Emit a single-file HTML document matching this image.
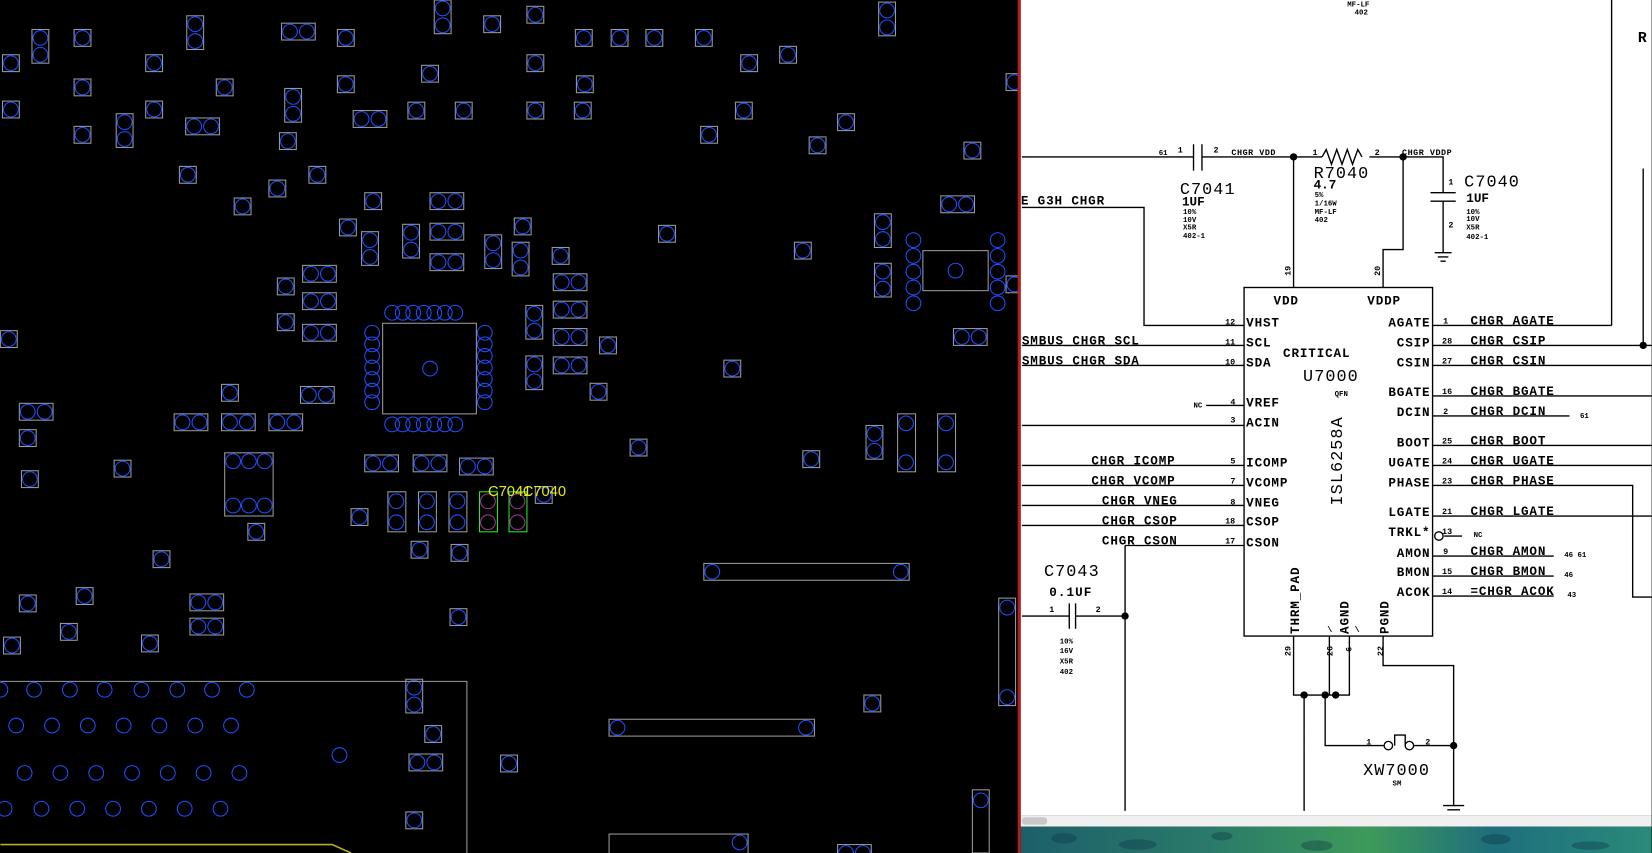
<!DOCTYPE html>
<html><head><meta charset="utf-8"><style>
html,body{margin:0;padding:0;background:#000;overflow:hidden}
svg{display:block}
.s text{font-family:"Liberation Mono",monospace;font-weight:bold;fill:#000}
.w{stroke:#000;stroke-width:1.3;fill:none}
.l{font-size:12px;letter-spacing:0.8px}
.n{font-size:8px}
.t{font-size:7px}
.p{font-size:12px}
.big{font-family:"Liberation Mono",monospace;font-size:16px;font-weight:normal !important;letter-spacing:1px}
</style></head><body>
<svg width="1652" height="853" viewBox="0 0 1568 810" xmlns="http://www.w3.org/2000/svg">
<defs>
<g id="S"><rect x="0" y="0" width="16" height="16" fill="none" stroke="#9a9a9a" stroke-width="1"/><circle cx="8" cy="8" r="7" fill="none" stroke="#1f4fff" stroke-width="1"/></g>
<g id="H"><rect x="0" y="0" width="32" height="16" fill="none" stroke="#9a9a9a" stroke-width="1"/><circle cx="8" cy="8" r="7" fill="none" stroke="#1f4fff"/><circle cx="24" cy="8" r="7" fill="none" stroke="#1f4fff"/></g>
<g id="V"><rect x="0" y="0" width="16" height="32" fill="none" stroke="#9a9a9a" stroke-width="1"/><circle cx="8" cy="8" r="7" fill="none" stroke="#1f4fff"/><circle cx="8" cy="24" r="7" fill="none" stroke="#1f4fff"/></g>
<g id="C"><circle r="7" fill="none" stroke="#1f4fff"/></g>
<linearGradient id="tex" x1="0" y1="0" x2="1" y2="0">
<stop offset="0" stop-color="#1d5f6a"/><stop offset="0.3" stop-color="#2a7a6a"/><stop offset="0.55" stop-color="#3d9a5a"/><stop offset="0.75" stop-color="#1e6e7c"/><stop offset="1" stop-color="#2a8a7a"/></linearGradient>
</defs>
<rect x="0" y="0" width="968" height="810" fill="#000"/>
<!-- PCB pads -->
<g>
<use href="#S" x="2" y="52"/><use href="#V" x="30" y="28"/><use href="#S" x="70" y="28"/><use href="#S" x="138" y="52"/><use href="#V" x="177" y="15"/><use href="#H" x="267" y="22"/><use href="#S" x="320" y="28"/><use href="#V" x="412" y="0"/><use href="#S" x="459" y="15"/><use href="#S" x="500" y="6"/><use href="#S" x="546" y="28"/><use href="#S" x="580" y="28"/><use href="#S" x="613" y="28"/><use href="#S" x="660" y="28"/><use href="#S" x="703" y="52"/><use href="#S" x="740" y="44"/><use href="#V" x="834" y="2"/>
<use href="#S" x="500" y="52"/><use href="#S" x="547" y="72"/><use href="#S" x="400" y="62"/><use href="#S" x="320" y="72"/><use href="#S" x="205" y="75"/><use href="#S" x="70" y="75"/><use href="#S" x="2" y="96"/><use href="#S" x="138" y="96"/><use href="#V" x="110" y="108"/><use href="#H" x="176" y="112"/><use href="#V" x="270" y="84"/><use href="#H" x="335" y="105"/><use href="#S" x="387" y="97"/><use href="#S" x="432" y="97"/><use href="#S" x="500" y="97"/><use href="#S" x="545" y="97"/><use href="#S" x="698" y="97"/><use href="#S" x="795" y="108"/><use href="#S" x="768" y="130"/><use href="#S" x="665" y="120"/><use href="#S" x="915" y="135"/><use href="#S" x="70" y="120"/><use href="#S" x="265" y="126"/>
<use href="#S" x="170" y="158"/><use href="#S" x="293" y="158"/><use href="#S" x="255" y="171"/><use href="#S" x="222" y="188"/><use href="#S" x="322" y="208"/><use href="#S" x="346" y="183"/><use href="#V" x="343" y="220"/><use href="#V" x="382" y="213"/><use href="#H" x="408" y="183"/><use href="#H" x="408" y="212"/><use href="#H" x="408" y="241"/><use href="#V" x="460" y="223"/><use href="#S" x="488" y="207"/><use href="#V" x="486" y="230"/><use href="#S" x="524" y="235"/><use href="#S" x="625" y="214"/><use href="#S" x="754" y="230"/><use href="#H" x="893" y="186"/><use href="#V" x="830" y="203"/><use href="#V" x="830" y="250"/>
<use href="#S" x="263" y="264"/><use href="#H" x="287" y="252"/><use href="#H" x="287" y="278"/><use href="#H" x="287" y="308"/><use href="#S" x="263" y="298"/><use href="#H" x="525" y="260"/><use href="#H" x="525" y="286"/><use href="#H" x="525" y="312"/><use href="#V" x="499" y="290"/><use href="#V" x="499" y="338"/><use href="#S" x="569" y="320"/><use href="#H" x="525" y="339"/><use href="#S" x="687" y="342"/><use href="#S" x="560" y="364"/><use href="#S" x="210" y="365"/><use href="#H" x="285" y="367"/><use href="#S" x="0" y="314"/><use href="#H" x="18" y="383"/><use href="#H" x="165" y="393"/><use href="#H" x="210" y="393"/><use href="#H" x="255" y="393"/><use href="#S" x="18" y="408"/><use href="#H" x="905" y="312"/>
<rect x="876" y="238" width="62" height="38" fill="none" stroke="#9a9a9a"/><use href="#C" x="907" y="257"/>
<use href="#C" x="867" y="228"/><use href="#C" x="867" y="243"/><use href="#C" x="867" y="258"/><use href="#C" x="867" y="273"/><use href="#C" x="867" y="288"/>
<use href="#C" x="947" y="228"/><use href="#C" x="947" y="243"/><use href="#C" x="947" y="258"/><use href="#C" x="947" y="273"/><use href="#C" x="947" y="288"/>
<use href="#S" x="598" y="417"/><use href="#S" x="762" y="428"/><use href="#V" x="822" y="404"/>
<rect x="852" y="393" width="17" height="55" fill="none" stroke="#9a9a9a"/><use href="#C" x="860" y="402"/><use href="#C" x="860" y="439"/>
<rect x="890" y="393" width="17" height="55" fill="none" stroke="#9a9a9a"/><use href="#C" x="898" y="402"/><use href="#C" x="898" y="439"/>
<use href="#H" x="346" y="432"/><use href="#H" x="392" y="432"/><use href="#H" x="436" y="435"/>
<rect x="213" y="430" width="46" height="60" fill="none" stroke="#9a9a9a"/><use href="#C" x="221" y="438"/><use href="#C" x="236" y="438"/><use href="#C" x="251" y="438"/><use href="#C" x="221" y="480"/><use href="#C" x="236" y="480"/><use href="#C" x="251" y="480"/>
<use href="#S" x="108" y="437"/><use href="#S" x="20" y="447"/>
<rect x="368" y="467" width="17" height="38" fill="none" stroke="#9a9a9a"/><use href="#C" x="376" y="476"/><use href="#C" x="376" y="496"/>
<rect x="397" y="467" width="17" height="38" fill="none" stroke="#9a9a9a"/><use href="#C" x="405" y="476"/><use href="#C" x="405" y="496"/>
<rect x="426" y="467" width="17" height="38" fill="none" stroke="#9a9a9a"/><use href="#C" x="434" y="476"/><use href="#C" x="434" y="496"/>
<use href="#S" x="508" y="462"/>
<rect x="455" y="467" width="17" height="38" fill="none" stroke="#22ee22"/><circle cx="463" cy="476" r="7" fill="none" stroke="#a0309a"/><circle cx="463" cy="496" r="7" fill="none" stroke="#a0309a"/>
<rect x="483" y="467" width="17" height="38" fill="none" stroke="#22ee22"/><circle cx="491" cy="476" r="7" fill="none" stroke="#a0309a"/><circle cx="491" cy="496" r="7" fill="none" stroke="#a0309a"/>
<text x="463" y="471" font-family="Liberation Sans,sans-serif" font-size="14" fill="#e8e820">C7041</text><text x="496" y="471" font-family="Liberation Sans,sans-serif" font-size="14" fill="#e8e820">C7040</text>
<use href="#S" x="333" y="483"/><use href="#S" x="235" y="497"/><use href="#S" x="390" y="514"/><use href="#S" x="428" y="517"/><use href="#S" x="145" y="523"/>
<use href="#S" x="18" y="565"/><use href="#S" x="72" y="558"/><use href="#H" x="180" y="564"/><use href="#H" x="180" y="587"/><use href="#S" x="57" y="592"/><use href="#S" x="3" y="605"/><use href="#S" x="134" y="603"/><use href="#S" x="427" y="578"/>
<rect x="668" y="535" width="195" height="16" fill="none" stroke="#9a9a9a"/><use href="#C" x="676" y="543"/><use href="#C" x="855" y="543"/>
<rect x="948" y="568" width="16" height="102" fill="none" stroke="#9a9a9a"/><use href="#C" x="956" y="577"/><use href="#C" x="956" y="662"/>
<use href="#V" x="385" y="645"/><use href="#S" x="403" y="689"/><use href="#H" x="388" y="716"/><use href="#S" x="475" y="717"/><use href="#S" x="385" y="771"/>
<rect x="578" y="683" width="195" height="16" fill="none" stroke="#9a9a9a"/><use href="#C" x="586" y="691"/><use href="#C" x="765" y="691"/>
<use href="#S" x="820" y="660"/><rect x="923" y="750" width="16" height="60" fill="none" stroke="#9a9a9a"/><use href="#C" x="931" y="760"/>
<rect x="578" y="792" width="132" height="30" fill="none" stroke="#9a9a9a"/><use href="#C" x="702" y="800"/><use href="#H" x="795" y="802"/>
<use href="#S" x="955" y="70"/><use href="#S" x="955" y="262"/>
<!-- QFN -->
<rect x="363" y="307" width="89" height="86" fill="none" stroke="#9a9a9a"/><use href="#C" x="408" y="350"/>
<use href="#C" x="372" y="297"/><use href="#C" x="382" y="297"/><use href="#C" x="392" y="297"/><use href="#C" x="402" y="297"/><use href="#C" x="412" y="297"/><use href="#C" x="422" y="297"/><use href="#C" x="432" y="297"/>
<use href="#C" x="372" y="403"/><use href="#C" x="382" y="403"/><use href="#C" x="392" y="403"/><use href="#C" x="402" y="403"/><use href="#C" x="412" y="403"/><use href="#C" x="422" y="403"/><use href="#C" x="432" y="403"/>
<use href="#C" x="353" y="316"/><use href="#C" x="353" y="327"/><use href="#C" x="353" y="338"/><use href="#C" x="353" y="349"/><use href="#C" x="353" y="360"/><use href="#C" x="353" y="371"/><use href="#C" x="353" y="382"/>
<use href="#C" x="460" y="316"/><use href="#C" x="460" y="327"/><use href="#C" x="460" y="338"/><use href="#C" x="460" y="349"/><use href="#C" x="460" y="360"/><use href="#C" x="460" y="371"/><use href="#C" x="460" y="382"/>
<!-- big outline -->
<polyline points="0,647 443,647 443,810" fill="none" stroke="#9a9a9a"/>
<g>
<use href="#C" x="0" y="655"/><use href="#C" x="32" y="655"/><use href="#C" x="66" y="655"/><use href="#C" x="99" y="655"/><use href="#C" x="134" y="655"/><use href="#C" x="168" y="655"/><use href="#C" x="201" y="655"/><use href="#C" x="234" y="655"/>
<use href="#C" x="15" y="689"/><use href="#C" x="49" y="689"/><use href="#C" x="83" y="689"/><use href="#C" x="117" y="689"/><use href="#C" x="151" y="689"/><use href="#C" x="185" y="689"/><use href="#C" x="219" y="689"/>
<use href="#C" x="23" y="734"/><use href="#C" x="57" y="734"/><use href="#C" x="91" y="734"/><use href="#C" x="125" y="734"/><use href="#C" x="159" y="734"/><use href="#C" x="193" y="734"/><use href="#C" x="227" y="734"/>
<use href="#C" x="4" y="768"/><use href="#C" x="39" y="768"/><use href="#C" x="73" y="768"/><use href="#C" x="107" y="768"/><use href="#C" x="141" y="768"/><use href="#C" x="175" y="768"/><use href="#C" x="209" y="768"/>
<use href="#C" x="322" y="717"/>
</g>
<polyline points="0,802 315,802 333,810" fill="none" stroke="#b8b020" stroke-width="1.5"/>
</g>
<!-- divider -->
<rect x="966" y="0" width="3" height="810" fill="#b02020"/>
<!-- schematic -->
<rect x="969" y="0" width="599" height="774" fill="#fff"/>
<rect x="969" y="774" width="599" height="11" fill="#f0f0f0"/><rect x="970" y="776" width="24" height="7" rx="3" fill="#c8c8c8"/>
<rect x="969" y="785" width="599" height="25" fill="url(#tex)"/>
<g opacity="0.35" fill="#0a3040"><ellipse cx="1010" cy="796" rx="12" ry="5"/><ellipse cx="1080" cy="802" rx="18" ry="5"/><ellipse cx="1160" cy="794" rx="10" ry="4"/><ellipse cx="1250" cy="803" rx="15" ry="5"/><ellipse cx="1420" cy="797" rx="14" ry="5"/><ellipse cx="1510" cy="803" rx="18" ry="4"/></g>
<g class="s">
<text x="1279" y="6" class="t">MF-LF</text><text x="1286" y="14" class="t">402</text>
<text x="1555" y="40" font-family="Liberation Serif,serif" font-size="14" font-weight="normal">R</text>
<path class="w" d="M1530,0V309M1560,160V328M970,149H1133M1141,149H1255M1300,149H1370V183M1370,191V240M1362,240H1378M1365,244H1375M1367.5,248H1372.5M1358,183H1382M1358,191H1382"/>
<path class="w" d="M1133,137V162M1141,137V162M1255,149l4,-7 5,14 5,-14 5,14 5,-14 5,14 5,-14 4,7"/>
<circle cx="1228" cy="149" r="3.5"/><circle cx="1332" cy="149" r="3.5"/>
<text x="1100" y="147" class="t">61</text><text x="1118" y="145" class="n">1</text><text x="1152" y="145" class="n">2</text><text x="1169" y="147" class="n" letter-spacing="0.5">CHGR VDD</text>
<text x="1246" y="147" class="n">1</text><text x="1305" y="147" class="n">2</text><text x="1331" y="147" class="n" letter-spacing="0.5">CHGR VDDP</text>
<text x="1120" y="184" class="big">C7041</text><text x="1122" y="195" class="p" font-weight="normal">1UF</text>
<text x="1123" y="203" class="t">10%</text><text x="1123" y="211" class="t">10V</text><text x="1123" y="218" class="t">X5R</text><text x="1123" y="226" class="t">402-1</text>
<text x="1247" y="169" class="big">R7040</text><text x="1247" y="179" class="p" font-weight="normal">4.7</text>
<text x="1248" y="187" class="t">5%</text><text x="1248" y="195" class="t">1/16W</text><text x="1248" y="203" class="t">MF-LF</text><text x="1248" y="211" class="t">402</text>
<text x="1390" y="177" class="big">C7040</text><text x="1375" y="175" class="n">1</text><text x="1375" y="216" class="n">2</text>
<text x="1392" y="192" class="p" font-weight="normal">1UF</text><text x="1392" y="203" class="t">10%</text><text x="1392" y="210" class="t">10V</text><text x="1392" y="218" class="t">X5R</text><text x="1392" y="227" class="t">402-1</text>
<path class="w" d="M1228,149V273M1332,149V237H1313V273"/>
<text transform="translate(1225,262) rotate(-90)" class="n">19</text><text transform="translate(1310,262) rotate(-90)" class="n">20</text>
<rect x="1181" y="273" width="179" height="331" class="w"/>
<text x="1209" y="289" class="l" font-size="11">VDD</text><text x="1298" y="289" class="l" font-size="11">VDDP</text>
<!-- left pins -->
<path class="w" d="M970,197H1086V309H1181M970,328H1181M970,347H1181M1145,385H1181M970,404H1181M970,442H1181M970,461H1181M970,480H1181M970,499H1181M1068,518H1181"/>
<text x="969" y="194" class="l">E G3H CHGR</text>
<text x="970" y="327" class="l" font-size="11.5">SMBUS_CHGR_SCL</text><text x="970" y="346" class="l" font-size="11.5">SMBUS CHGR SDA</text>
<text x="1133" y="387" class="t">NC</text>
<text x="1036" y="441" class="l" font-size="11.5">CHGR ICOMP</text><text x="1036" y="460" class="l" font-size="11.5">CHGR_VCOMP</text><text x="1046" y="479" class="l" font-size="11.5">CHGR VNEG</text><text x="1046" y="498" class="l" font-size="11.5">CHGR_CSOP</text><text x="1046" y="517" class="l" font-size="11.5">CHGR_CSON</text>
<g class="n"><text x="1163" y="308">12</text><text x="1163" y="327">11</text><text x="1163" y="346">10</text><text x="1168" y="384">4</text><text x="1168" y="401">3</text><text x="1168" y="440">5</text><text x="1168" y="459">7</text><text x="1168" y="479">8</text><text x="1163" y="497">18</text><text x="1163" y="516">17</text></g>
<g class="l" font-size="11.5"><text x="1183" y="310">VHST</text><text x="1183" y="329">SCL</text><text x="1183" y="348">SDA</text><text x="1183" y="386">VREF</text><text x="1183" y="405">ACIN</text><text x="1183" y="443">ICOMP</text><text x="1183" y="462">VCOMP</text><text x="1183" y="481">VNEG</text><text x="1183" y="499">CSOP</text><text x="1183" y="519">CSON</text></g>
<text x="1218" y="339" class="l" font-size="13">CRITICAL</text>
<text x="1237" y="362" class="big" font-size="17" letter-spacing="2">U7000</text>
<text x="1267" y="376" class="t">QFN</text>
<text transform="translate(1274,480) rotate(-90)" class="big" font-weight="bold" font-size="15" letter-spacing="2">ISL6258A</text>
<!-- right pins -->
<g class="l" font-size="11.5" text-anchor="end"><text x="1358" y="310">AGATE</text><text x="1358" y="329">CSIP</text><text x="1358" y="348">CSIN</text><text x="1358" y="376">BGATE</text><text x="1358" y="395">DCIN</text><text x="1358" y="424">BOOT</text><text x="1358" y="443">UGATE</text><text x="1358" y="462">PHASE</text><text x="1358" y="490">LGATE</text><text x="1358" y="509">TRKL*</text><text x="1358" y="529">AMON</text><text x="1358" y="547">BMON</text><text x="1358" y="566">ACOK</text></g>
<path class="w" d="M1360,309H1530M1360,328H1568M1360,347H1568M1360,376H1568M1360,395H1490M1360,423H1568M1360,442H1568M1360,461H1550V567H1568M1360,490H1568M1371,509H1388M1360,528H1475M1360,547H1475M1360,566H1475"/>
<circle cx="1560" cy="328" r="3.5"/><circle cx="1366" cy="509" r="4" fill="#fff" stroke="#000" stroke-width="1.3"/>
<g class="n"><text x="1370" y="307">1</text><text x="1369" y="326">28</text><text x="1369" y="345">27</text><text x="1369" y="374">16</text><text x="1370" y="393">2</text><text x="1369" y="421">25</text><text x="1369" y="440">24</text><text x="1369" y="459">23</text><text x="1369" y="488">21</text><text x="1369" y="507">13</text><text x="1370" y="526">9</text><text x="1369" y="545">15</text><text x="1369" y="564">14</text></g>
<g class="l" font-size="11.5"><text x="1396" y="308">CHGR_AGATE</text><text x="1396" y="327">CHGR_CSIP</text><text x="1396" y="346">CHGR CSIN</text><text x="1396" y="375">CHGR_BGATE</text><text x="1396" y="394">CHGR DCIN</text><text x="1396" y="422">CHGR_BOOT</text><text x="1396" y="441">CHGR UGATE</text><text x="1396" y="460">CHGR_PHASE</text><text x="1396" y="489">CHGR_LGATE</text><text x="1396" y="527">CHGR_AMON</text><text x="1396" y="546">CHGR_BMON</text><text x="1396" y="565">=CHGR_ACOK</text></g>
<text x="1399" y="510" class="t">NC</text><text x="1500" y="397" class="t">61</text><text x="1485" y="529" class="t">46 61</text><text x="1485" y="548" class="t">46</text><text x="1488" y="567" class="t">43</text>
<!-- bottom pins -->
<text transform="translate(1233,602) rotate(-90)" class="l" font-size="11.5">THRM_PAD</text>
<text transform="translate(1280,602) rotate(-90)" class="l" font-size="11.5">AGND</text>
<text transform="translate(1318,602) rotate(-90)" class="l" font-size="11.5">PGND</text>
<text x="1260" y="600" class="n">\</text><text x="1286" y="600" class="n">\</text>
<path class="w" d="M1228,604V660H1281V604M1262,604V660M1313,604V632H1380V765M1238,660V770M1258,660V708H1314M1342,708H1380M1324,708V698H1334V708M1370,765H1390M1374,769H1386"/>
<circle cx="1318" cy="708" r="4" fill="#fff" stroke="#000" stroke-width="1.3"/><circle cx="1338" cy="708" r="4" fill="#fff" stroke="#000" stroke-width="1.3"/>
<circle cx="1238" cy="660" r="3.5"/><circle cx="1258" cy="660" r="3.5"/><circle cx="1268" cy="660" r="3.5"/><circle cx="1380" cy="708" r="3.5"/>
<g class="n"><text transform="translate(1225,623) rotate(-90)">29</text><text transform="translate(1265,623) rotate(-90)">26</text><text transform="translate(1283,619) rotate(-90)">6</text><text transform="translate(1313,623) rotate(-90)">22</text></g>
<text x="1297" y="707" class="n">1</text><text x="1353" y="707" class="n">2</text>
<text x="1294" y="736" class="big">XW7000</text><text x="1322" y="746" class="t">SM</text>
<!-- C7043 -->
<text x="991" y="547" class="big">C7043</text><text x="996" y="566" class="p" font-weight="normal" letter-spacing="1">0.1UF</text>
<path class="w" d="M970,585H1015M1021,585H1068M1015,573V597M1021,573V597M1068,518V770"/>
<circle cx="1068" cy="585" r="3.5"/>
<text x="996" y="581" class="n">1</text><text x="1040" y="581" class="n">2</text>
<text x="1006" y="611" class="t">10%</text><text x="1006" y="620" class="t">16V</text><text x="1006" y="630" class="t">X5R</text><text x="1006" y="640" class="t">402</text>
</g>
</svg>
</body></html>
